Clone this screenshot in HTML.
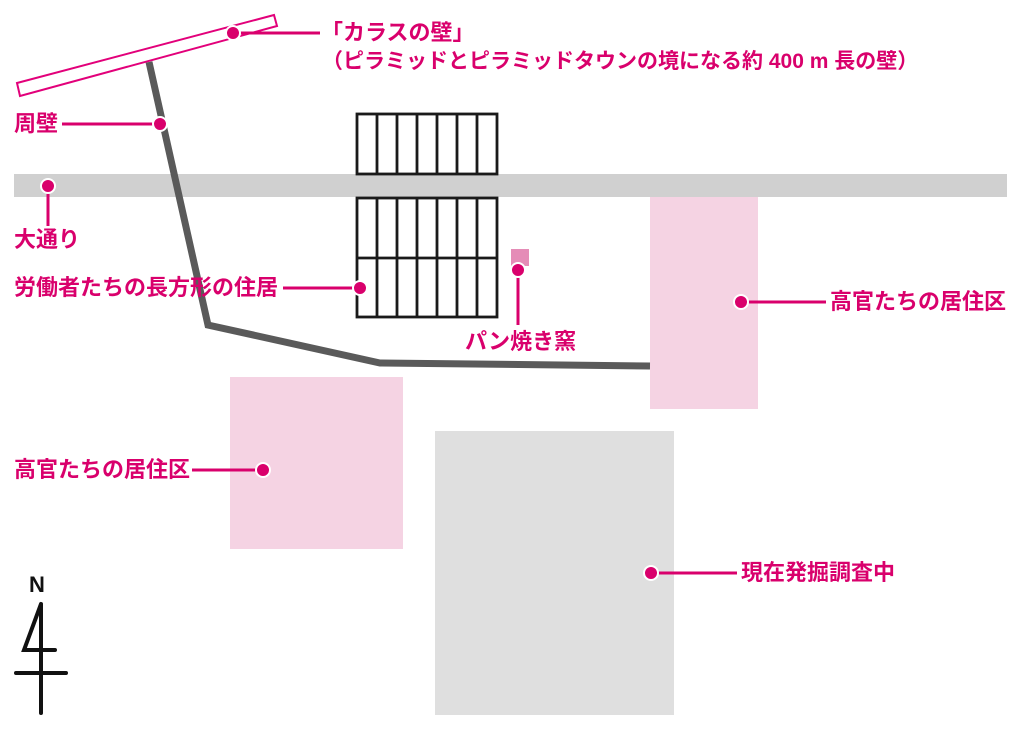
<!DOCTYPE html>
<html><head><meta charset="utf-8"><style>
html,body{margin:0;padding:0;background:#fff;}
body{width:1024px;height:731px;position:relative;overflow:hidden;}
.t{position:absolute;font-family:"Liberation Sans","Noto Sans CJK JP",sans-serif;font-weight:bold;color:#d9006c;font-size:22px;line-height:24px;white-space:nowrap;}
</style></head><body>
<svg width="1024" height="731" style="position:absolute;left:0;top:0">
<rect x="14" y="174" width="993" height="23" fill="#d0d0d0"/>
<rect x="650" y="197" width="108" height="212" fill="#f5d3e3"/>
<rect x="230" y="377" width="173" height="172" fill="#f5d3e3"/>
<rect x="435" y="431" width="239" height="284" fill="#dfdfdf"/>
<polyline points="149,62 208,325 380,363 650,366" fill="none" stroke="#5a5a5a" stroke-width="7"/>
<polygon points="17,83 274,15 277,26 20,96" fill="#fff" stroke="#e2007a" stroke-width="2"/>
<g fill="none" stroke="#1a1a1a" stroke-width="2.8">
<rect x="357" y="114" width="140" height="60"/>
<rect x="357" y="198" width="140" height="119"/>
<line x1="357" y1="258" x2="497" y2="258"/>
<path d="M377 114V174M397 114V174M417 114V174M437 114V174M457 114V174M477 114V174M377 198V317M397 198V317M417 198V317M437 198V317M457 198V317M477 198V317"/>
</g>
<rect x="511" y="249" width="18" height="17" fill="#e58cb7"/>
<g stroke="#d9006c" stroke-width="3" fill="#d9006c">
<line x1="233" y1="33" x2="320" y2="33"/>
<line x1="62" y1="124" x2="160" y2="124"/>
<line x1="48" y1="186" x2="48" y2="226"/>
<line x1="283" y1="288" x2="360" y2="288"/>
<line x1="518" y1="270" x2="518" y2="325"/>
<line x1="741" y1="302" x2="826" y2="302"/>
<line x1="192" y1="470" x2="263" y2="470"/>
<line x1="651" y1="573" x2="737" y2="573"/>
</g>
<g fill="#d9006c" stroke="#fff" stroke-width="2">
<circle cx="233" cy="33" r="7"/><circle cx="160" cy="124" r="7"/><circle cx="48" cy="186" r="7"/>
<circle cx="360" cy="288" r="7"/><circle cx="518" cy="270" r="7"/><circle cx="741" cy="302" r="7"/>
<circle cx="263" cy="470" r="7"/><circle cx="651" cy="573" r="7"/>
</g>
<g stroke="#111" stroke-width="4" fill="none" stroke-linecap="round">
<path d="M41 604 L41 713 M41 604 L24 650 L55 650 M16 673 L66 673"/>
</g>
<text x="29" y="592" font-family="Liberation Sans" font-weight="bold" font-size="22" fill="#111">N</text>
</svg>
<div class="t" style="left:321px;top:21px">「カラスの壁」</div>
<div class="t" style="left:322px;top:50px;font-size:21px">（ピラミッドとピラミッドタウンの境になる約 400 m 長の壁）</div>
<div class="t" style="left:14px;top:112px">周壁</div>
<div class="t" style="left:14px;top:228px">大通り</div>
<div class="t" style="left:14px;top:276px">労働者たちの長方形の住居</div>
<div class="t" style="left:465px;top:330px">パン焼き窯</div>
<div class="t" style="left:830px;top:290px">高官たちの居住区</div>
<div class="t" style="left:14px;top:458px">高官たちの居住区</div>
<div class="t" style="left:741px;top:561px">現在発掘調査中</div>
</body></html>
